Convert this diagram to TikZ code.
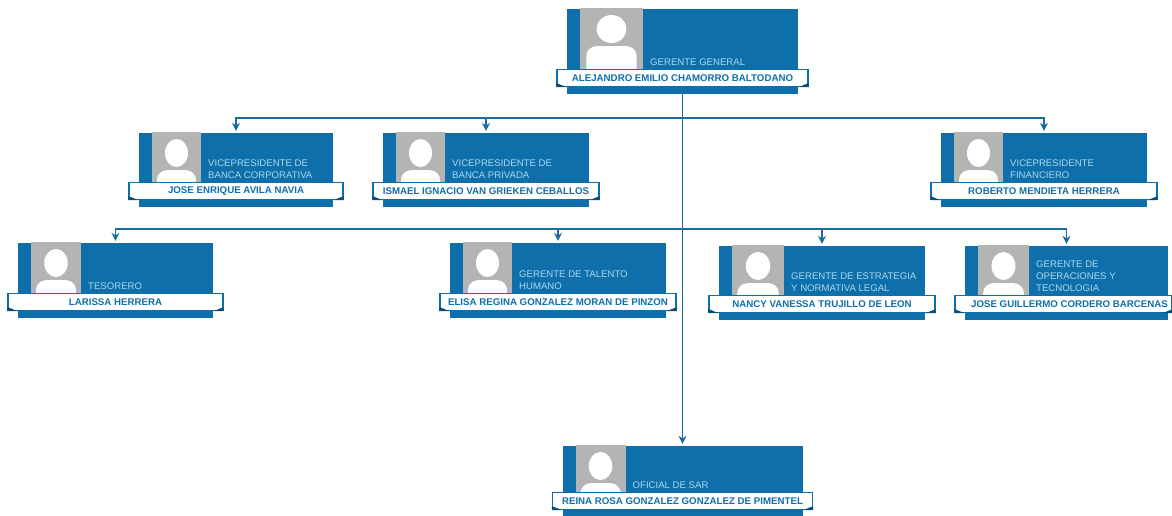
\documentclass[tikz,border=0pt]{standalone}
\usepackage{fontspec}
\setmainfont{Liberation Sans}
\usepackage{tikz}
\usetikzlibrary{shapes}
\usetikzlibrary{arrows.meta}
\usetikzlibrary{positioning}
\definecolor{azul}{HTML}{0F6FAA}
\definecolor{azulosc}{HTML}{1A6E9E}
\definecolor{celeste}{HTML}{A9D9EE}
\definecolor{gris}{HTML}{B4B4B2}
\tikzstyle{tarjeta}=[rectangle,fill=azul,inner sep=0pt]
\tikzstyle{foto}=[rectangle,fill=gris,inner sep=0pt]
\tikzstyle{cabeza}=[ellipse,fill=white,inner sep=0pt]
\tikzstyle{hombros}=[rectangle,fill=white,rounded corners=10pt,inner sep=0pt]
\tikzstyle{cargo}=[text=celeste,align=left,inner sep=0pt,font=\fontsize{9.6}{11.8}\selectfont]
\tikzstyle{cinta}=[rectangle,draw=azul,line width=1.2pt,fill=white,inner sep=0pt,minimum height=17pt]
\tikzstyle{nombre}=[text=azul,font=\fontsize{9.7}{10}\selectfont\bfseries]
\tikzstyle{suite}=[-{Stealth[length=8pt,width=8pt]},line width=1.1pt,draw=azulosc,shorten >=2pt]
% id, centro x, arriba y, ancho, alto, ancho foto, cargo, nombre, vuelo derecho de la cinta
\newcommand{\ficha}[9]{
\pgfmathsetmacro{\fy}{#3-1+(#5-23.5)/2}
\pgfmathsetmacro{\fh}{#5-23.5}
\pgfmathsetmacro{\cy}{#3+#5-16}
\node[tarjeta,minimum width=#4pt,minimum height=#5pt] (#1) at (#2,{#3+#5/2}) {};
\node[foto,minimum width=#6pt,minimum height=\fh pt] (#1-foto) at ({#2-#4/2+13+#6/2},\fy) {};
\node[cabeza,minimum width={.47*#6*1pt},minimum height=28pt] (#1-cabeza) at ({#2-#4/2+13+#6/2},{#3+20}) {};
\node[hombros,anchor=north,minimum width={.8*#6*1pt},minimum height={(\fh-30)*1pt}] (#1-hombros) at ({#2-#4/2+13+#6/2},{#3+37}) {};
\node[cargo,anchor=south west] (#1-cargo) at ({#2-#4/2+13+#6+7},{\cy-12.5}) {#7};
\node[cinta,minimum width={(#4+10+#9)*1pt}] (#1-cinta) at ({#2+(#9-10)/2},\cy) {};
\fill[azul!70!black] (#1-cinta.south west) -- ++(0,-4) -- ++(10,4) -- cycle;
\fill[azul!70!black] (#1-cinta.south east) -- ++(0,-4) -- ++(-10,4) -- cycle;
\node[nombre] (#1-nombre) at ({#2-(#9-10)/2},\cy) {#8};
}
\begin{document}
\begin{tikzpicture}[x=1pt,y=-1pt]
\useasboundingbox (0,0) rectangle (1172,515);
\ficha{general}{682.5}{9}{231}{85}{63}{GERENTE GENERAL}{ALEJANDRO EMILIO CHAMORRO BALTODANO}{10}
\ficha{corporativa}{236}{133}{194}{74}{49}{VICEPRESIDENTE DE\\BANCA CORPORATIVA}{JOSE ENRIQUE AVILA NAVIA}{10}
\ficha{privada}{486}{133}{206}{74}{49}{VICEPRESIDENTE DE\\BANCA PRIVADA}{ISMAEL IGNACIO VAN GRIEKEN CEBALLOS}{10}
\ficha{financiero}{1044}{133}{206}{74}{49}{VICEPRESIDENTE\\FINANCIERO}{ROBERTO MENDIETA HERRERA}{10}
\ficha{tesorero}{115.5}{243}{195}{75}{50}{TESORERO}{LARISSA HERRERA}{10}
\ficha{talento}{558}{243}{216}{75}{49}{GERENTE DE TALENTO\\HUMANO}{ELISA REGINA GONZALEZ MORAN DE PINZON}{10}
\ficha{estrategia}{822}{246}{206}{74}{52}{GERENTE DE ESTRATEGIA\\Y NORMATIVA LEGAL}{NANCY VANESSA TRUJILLO DE LEON}{10}
\ficha{operaciones}{1066.5}{246}{203}{74}{51}{GERENTE DE\\OPERACIONES Y\\TECNOLOGIA}{JOSE GUILLERMO CORDERO BARCENAS}{4}
\ficha{sar}{682.5}{446}{240}{71}{50}{OFICIAL DE SAR}{REINA ROSA GONZALEZ GONZALEZ DE PIMENTEL}{10}
\coordinate (busa) at (682.5,118);
\coordinate (busb) at (682.5,229);
%Conectores
\draw[suite] (general.south) -- (sar.north);
\draw[suite] (busa) -| (corporativa.north);
\draw[suite] (busa) -| (privada.north);
\draw[suite] (busa) -| (financiero.north);
\draw[suite] (busb) -| (tesorero.north);
\draw[suite] (busb) -| (talento.north);
\draw[suite] (busb) -| (estrategia.north);
\draw[suite] (busb) -| (operaciones.north);
\end{tikzpicture}
\end{document}
